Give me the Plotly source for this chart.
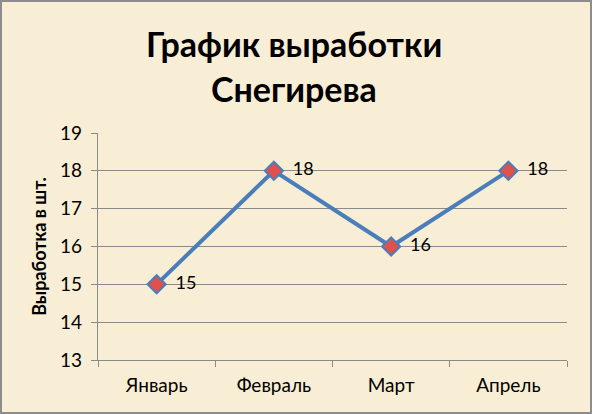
import plotly.graph_objects as go

months = ["Январь", "Февраль", "Март", "Апрель"]
output = [15, 18, 16, 18]

y_ticks = [13, 14, 15, 16, 17, 18, 19]
title_lines = ["График выработки", "Снегирева"]

font_name = "Lato"
grid_color = "#8a8a8a"

fig = go.Figure()
fig.add_trace(go.Scatter(
    x=months, y=output,
    mode="lines+markers+text",
    text=["  " + str(v) for v in output],
    textposition="middle right",
    textfont=dict(family=font_name, size=18, color="#000000"),
    line=dict(color="#4a7ebb", width=4),
    marker=dict(symbol="diamond", size=14, color="#e0504d",
                line=dict(color="#4a7ebb", width=2)),
    cliponaxis=False,
    showlegend=False,
))

fig.update_layout(
    width=592, height=414,
    margin=dict(l=98, r=25, t=133, b=54),
    paper_bgcolor="#f8eed5",
    plot_bgcolor="rgba(0,0,0,0)",
    font=dict(family=font_name, color="#000000"),
)

# title as two annotations so the line spacing matches
for i, line in enumerate(title_lines):
    fig.add_annotation(
        text="<b>" + line + "</b>", showarrow=False,
        xref="paper", yref="paper",
        x=(294 - 98) / 469, y=(360 - (43 + 45 * i)) / 227,
        xanchor="center", yanchor="middle",
        font=dict(family=font_name, size=34, color="#000000"),
    )

fig.update_xaxes(
    type="category",
    tickson="boundaries",
    ticks="outside", ticklen=6, tickcolor=grid_color,
    showline=True, linecolor=grid_color, linewidth=1.3,
    showgrid=False,
    tickfont=dict(family=font_name, size=19),
    ticklabelstandoff=8,
    range=[-0.5, 3.5],
)
fig.update_yaxes(
    range=[13, 19], tickvals=y_ticks,
    ticks="outside", ticklen=6, tickcolor=grid_color,
    showline=True, linecolor=grid_color, linewidth=1.3,
    showgrid=True, gridcolor=grid_color, gridwidth=1.3,
    zeroline=False,
    tickfont=dict(family=font_name, size=19),
    ticklabelstandoff=5,
    title=dict(text="<b>Выработка в шт.</b>", font=dict(family=font_name, size=18), standoff=8),
)

# outer frame around the picture
fig.add_shape(type="rect", xref="paper", yref="paper",
              x0=-97 / 469, x1=1 + 24 / 469, y0=-53 / 227, y1=1 + 132 / 227,
              line=dict(color="#8c8c8c", width=2), layer="above")

fig.write_html("out.html", config={"displayModeBar": False},
               post_script="document.body.style.margin='0';")
